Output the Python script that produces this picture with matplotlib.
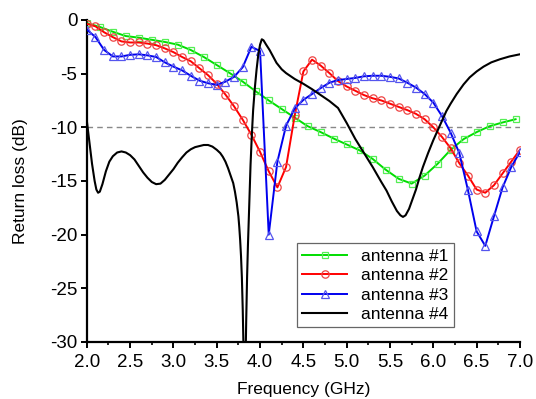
import numpy as np
import matplotlib
matplotlib.use("Agg")
import matplotlib.pyplot as plt
from matplotlib.ticker import MultipleLocator, FormatStrFormatter

plt.rcParams['font.family'] = ['Liberation Sans', 'DejaVu Sans']
plt.rcParams['axes.unicode_minus'] = False

# antenna #1 (sampled every 0.15 GHz)
freq1 = np.round(2.0 + 0.15 * np.arange(34), 2)
rl1 = [-0.3, -0.65, -1.1, -1.5, -1.65, -1.85, -2.05, -2.3, -2.8, -3.45,
       -4.2, -4.95, -5.75, -6.65, -7.5, -8.3, -9.1, -9.9, -10.45, -11.05,
       -11.6, -12.15, -12.95, -13.95, -14.8, -15.25, -14.5, -13.4, -12.1, -11.1,
       -10.45, -9.9, -9.55, -9.25]

# antennas #2 and #3 (sampled every 0.1 GHz)
freq23 = np.round(np.arange(2.0, 7.01, 0.1), 2)
rl2 = [-0.35, -0.6, -1.15, -1.6, -2.0, -2.1, -2.1, -2.2, -2.35, -2.65,
       -3.0, -3.45, -3.85, -4.5, -5.15, -5.95, -6.95, -8.05, -9.3, -10.7,
       -12.3, -14.1, -15.6, -13.7, -8.9, -4.8, -3.7, -4.25, -4.95, -5.7,
       -6.2, -6.6, -7.0, -7.3, -7.5, -7.8, -8.1, -8.4, -8.75, -9.25,
       -10.0, -10.9, -11.95, -13.35, -14.5, -15.8, -16.1, -15.4, -14.3, -13.2,
       -12.1]
rl3 = [-0.9, -1.6, -2.8, -3.4, -3.4, -3.25, -3.2, -3.3, -3.45, -3.95,
       -4.35, -4.7, -5.2, -5.65, -5.9, -6.05, -5.75, -5.3, -4.4, -2.5,
       -2.9, -20.0, -13.2, -9.85, -8.25, -7.45, -6.9, -6.35, -5.85, -5.6,
       -5.5, -5.4, -5.25, -5.2, -5.2, -5.3, -5.45, -5.85, -6.3, -6.9,
       -7.7, -8.95, -10.5, -12.4, -15.85, -19.7, -21.05, -18.3, -15.6, -13.7,
       -12.3]

# antenna #4 (smooth curve)
freq4 = [2.00, 2.03, 2.06, 2.09, 2.11, 2.13, 2.15, 2.18, 2.22, 2.26, 2.30, 2.35,
         2.40, 2.45, 2.50, 2.55, 2.60, 2.65, 2.70, 2.75, 2.80, 2.85, 2.90, 2.95,
         3.00, 3.05, 3.10, 3.15, 3.20, 3.25, 3.30, 3.35, 3.40, 3.45, 3.50, 3.54,
         3.57, 3.60, 3.63, 3.66, 3.69, 3.71, 3.73, 3.75, 3.76, 3.77, 3.78, 3.79,
         3.80, 3.815, 3.83, 3.84, 3.85, 3.86, 3.87, 3.88, 3.89, 3.905, 3.92, 3.94,
         3.96, 3.98, 4.00, 4.02, 4.04, 4.07, 4.11, 4.15, 4.19, 4.25, 4.30, 4.40,
         4.50, 4.60, 4.70, 4.80, 4.90, 5.00, 5.10, 5.20, 5.30, 5.40, 5.46, 5.52,
         5.58, 5.62, 5.65, 5.68, 5.72, 5.76, 5.80, 5.84, 5.88, 5.94, 6.00, 6.05,
         6.10, 6.15, 6.20, 6.27, 6.35, 6.42, 6.50, 6.58, 6.67, 6.77, 6.88, 7.00]
rl4 = [-9.4, -11.4, -13.4, -15.0, -15.8, -16.1, -16.0, -15.3, -14.1, -13.2, -12.7, -12.35,
       -12.25, -12.35, -12.6, -13.0, -13.6, -14.2, -14.7, -15.1, -15.3, -15.25, -14.9, -14.4,
       -13.9, -13.3, -12.8, -12.35, -12.05, -11.85, -11.75, -11.65, -11.65, -11.8, -12.1, -12.4,
       -12.75, -13.2, -13.8, -14.5, -15.2, -16.0, -17.0, -18.3, -19.3, -20.5, -22.0, -24.0,
       -27.0, -33.0, -33.0, -28.0, -24.0, -21.0, -18.5, -16.0, -13.5, -10.7, -8.4, -6.3,
       -4.6, -3.2, -2.3, -1.8, -1.9, -2.3, -2.8, -3.4, -4.0, -4.6, -4.95, -5.5,
       -5.95, -6.45, -7.0, -7.55, -8.2, -9.6, -11.1, -12.4, -13.7, -15.1, -15.9, -16.9,
       -17.8, -18.2, -18.35, -18.2, -17.6, -16.7, -15.8, -14.7, -13.7, -12.4, -11.2, -10.3,
       -9.4, -8.5, -7.8, -6.9, -6.0, -5.35, -4.8, -4.35, -3.95, -3.66, -3.4, -3.2]

fig = plt.figure(figsize=(5.36, 3.99), dpi=100)
ax = fig.add_axes([0.162, 0.143, 0.808, 0.807])

ax.axhline(-10, color='#888888', linestyle=(0, (4, 3)), linewidth=1.0, zorder=1)

ax.plot(freq1, rl1, color='#00dd00', linewidth=1.4, marker='s', markersize=4.8,
        markerfacecolor='none', markeredgecolor='#55ee55', markeredgewidth=0.9,
        label='antenna #1', zorder=3)
ax.plot(freq23, rl2, color='#ff0000', linewidth=1.4, marker='o', markersize=5.3,
        markerfacecolor='none', markeredgecolor='#ee4444', markeredgewidth=0.9,
        label='antenna #2', zorder=3)
ax.plot(freq23, rl3, color='#0000ee', linewidth=1.4, marker='^', markersize=5.8,
        markerfacecolor='none', markeredgecolor='#5555ee', markeredgewidth=0.9,
        label='antenna #3', zorder=3)
ax.plot(freq4, rl4, color='black', linewidth=1.5, label='antenna #4', zorder=4)

ax.set_xlim(2.0, 7.0)
ax.set_ylim(-30, 0)
ax.xaxis.set_major_locator(MultipleLocator(0.5))
ax.xaxis.set_minor_locator(MultipleLocator(0.25))
ax.xaxis.set_major_formatter(FormatStrFormatter('%.1f'))
ax.yaxis.set_major_locator(MultipleLocator(5))

for s in ['top', 'right']:
    ax.spines[s].set_visible(False)
for s in ['left', 'bottom']:
    ax.spines[s].set_linewidth(1.6)
ax.tick_params(which='major', direction='out', length=4.3, width=1.4, labelsize=13.5)
ax.tick_params(which='minor', direction='out', length=2.5, width=1.2)
ax.tick_params(axis='x', which='major', pad=4.5)
ax.tick_params(axis='y', which='major', pad=2.5)

ax.set_xlabel('Frequency (GHz)', fontsize=12.5, labelpad=8)
ax.set_ylabel('Return loss (dB)', fontsize=12.5, labelpad=16)

leg = ax.legend(loc='lower left', bbox_to_anchor=(0.485, 0.045), fontsize=12.5,
                fancybox=False, framealpha=1, edgecolor='#666666',
                handlelength=2.6, borderpad=0.3, labelspacing=0.25,
                handletextpad=0.8, borderaxespad=0)
leg.get_frame().set_linewidth(0.9)

fig.savefig('out.png', dpi=100)
